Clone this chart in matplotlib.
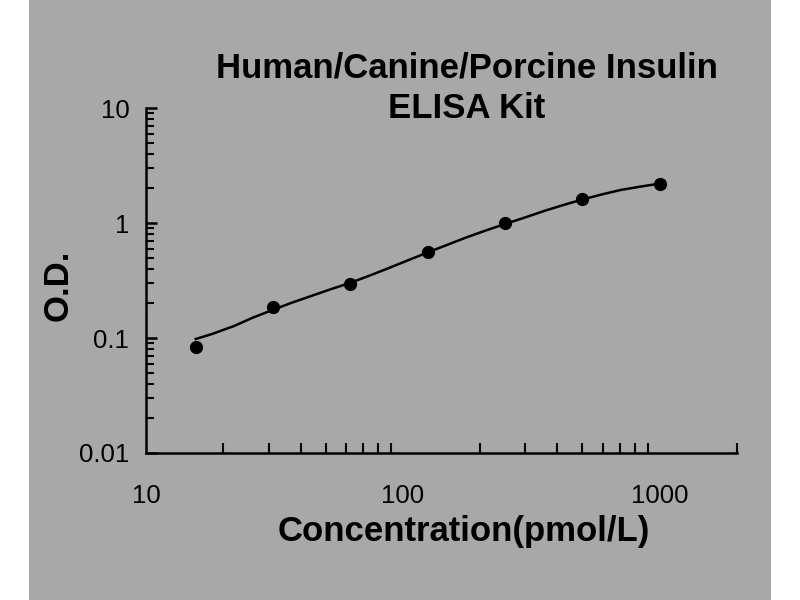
import matplotlib.pyplot as plt
from matplotlib import font_manager
from matplotlib.patches import Rectangle
from matplotlib.ticker import FixedLocator, FixedFormatter, NullFormatter

plt.rcParams['font.family'] = ['Liberation Sans', 'DejaVu Sans']

# standard points (concentration, O.D.)
conc = [15.625, 31.25, 62.5, 125, 250, 500, 1000]
od = [0.084, 0.187, 0.295, 0.562, 0.993, 1.63, 2.17]

# fitted curve
curve_conc = [15.625, 18, 22, 26, 31.25, 37, 44, 52, 62.5, 75, 88, 105, 125, 150, 177,
              210, 250, 300, 354, 420, 500, 600, 707, 850, 1000]
curve_od = [0.098, 0.108, 0.127, 0.150, 0.176, 0.203, 0.232, 0.264, 0.302, 0.352, 0.405,
            0.475, 0.555, 0.65, 0.75, 0.86, 0.98, 1.12, 1.27, 1.43, 1.6, 1.78, 1.94, 2.08, 2.2]

xticks = [10, 100, 1000]
xminor = [20, 30, 40, 50, 60, 70, 80, 90, 100, 200, 300, 400, 500, 600, 700, 800, 900, 1000, 2000]
yticks = [0.01, 0.1, 1, 10]
yminor = [m * d for d in [0.01, 0.1, 1] for m in range(2, 10)]

title = 'Human/Canine/Porcine Insulin\nELISA Kit'
xlab = 'Concentration(pmol/L)'
ylab = 'O.D.'

bg = '#a8a8a8'

# narrow face for the tick numbers if there is one
installed = {f.name for f in font_manager.fontManager.ttflist}
if 'Liberation Sans Narrow' in installed:
    tick_family, tick_size = ['Liberation Sans Narrow', 'DejaVu Sans'], 21
elif 'DejaVu Sans Condensed' in installed:
    tick_family, tick_size = ['DejaVu Sans Condensed', 'DejaVu Sans'], 18
else:
    tick_family, tick_size = ['Liberation Sans', 'DejaVu Sans'], 18.5

fig = plt.figure(figsize=(8, 6), dpi=100, facecolor='white')
fig.patches.append(Rectangle((29 / 800, 0), (771 - 29) / 800, 1,
                             transform=fig.transFigure, facecolor=bg,
                             edgecolor='none', zorder=-10))

ax = fig.add_axes([146 / 800, 1 - 453 / 600, (737 - 146) / 800, (453 - 108) / 600])
ax.set_zorder(5)
ax.patch.set_alpha(0)

ax.plot(curve_conc, curve_od, color='black', lw=1.8, zorder=2)
ax.plot(conc, od, 'o', color='black', ms=8.5, zorder=3)

ax.set_xscale('log')
ax.set_yscale('log')
ax.set_xlim(10, 2000)
ax.set_ylim(0.01, 10)

for s in ['top', 'right']:
    ax.spines[s].set_visible(False)
for s in ['left', 'bottom']:
    ax.spines[s].set_linewidth(1.8)
    ax.spines[s].set_color('black')

ax.xaxis.set_major_locator(FixedLocator(xticks))
ax.xaxis.set_major_formatter(FixedFormatter([str(t) for t in xticks]))
ax.xaxis.set_minor_locator(FixedLocator(xminor))
ax.xaxis.set_minor_formatter(NullFormatter())
ax.yaxis.set_major_locator(FixedLocator(yticks))
ax.yaxis.set_major_formatter(FixedFormatter(['0.01', '0.1', '1', '10']))
ax.yaxis.set_minor_locator(FixedLocator(yminor))
ax.yaxis.set_minor_formatter(NullFormatter())

ax.tick_params(axis='x', which='major', direction='in', length=0, pad=22)
ax.tick_params(axis='x', which='minor', direction='in', length=7, width=1.5)
ax.tick_params(axis='y', which='major', direction='in', length=8, width=1.8, pad=12)
ax.tick_params(axis='y', which='minor', direction='in', length=6, width=1.5)
for lab in ax.get_xticklabels() + ax.get_yticklabels():
    lab.set_family(tick_family)
    lab.set_fontsize(tick_size)

fig.text(467 / 800, 1 - 88 / 600, title, ha='center', va='center',
         fontsize=25, fontweight='bold', linespacing=1.3)
fig.text(464 / 800, 1 - 532 / 600, xlab, ha='center', va='center',
         fontsize=25, fontweight='bold')
fig.text(58 / 800, 1 - 285 / 600, ylab, ha='center', va='center',
         fontsize=25, fontweight='bold', rotation=90)

fig.savefig('out.png', dpi=100, facecolor='white')
